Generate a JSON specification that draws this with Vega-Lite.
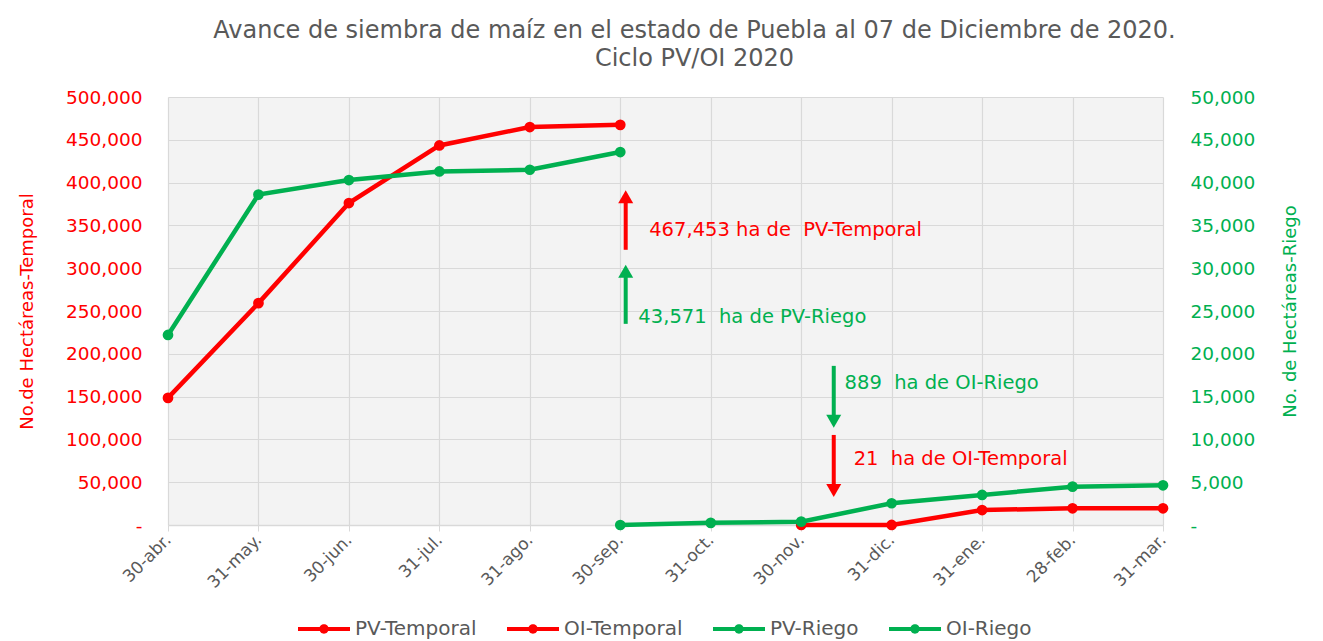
{
  "$schema": "https://vega.github.io/schema/vega-lite/v6.json",
  "autosize": {"type": "none"},
  "width": 995,
  "height": 428,
  "padding": {"left": 168, "top": 97, "right": 160, "bottom": 116},
  "background": "white",
  "title": {
    "text": ["Avance de siembra de maíz en el estado de Puebla al 07 de Diciembre de 2020.", "Ciclo PV/OI 2020"],
    "fontSize": 24,
    "fontWeight": "normal",
    "color": "#595959",
    "lineHeight": 28,
    "anchor": "middle",
    "dx": 29,
    "offset": 17
  },
  "datasets": {
    "series": [
      {"i": 0, "mes": "30-abr.", "serie": "PV-Temporal", "eje": "izq", "v": 148500},
      {"i": 1, "mes": "31-may.", "serie": "PV-Temporal", "eje": "izq", "v": 259200},
      {"i": 2, "mes": "30-jun.", "serie": "PV-Temporal", "eje": "izq", "v": 376100},
      {"i": 3, "mes": "31-jul.", "serie": "PV-Temporal", "eje": "izq", "v": 443400},
      {"i": 4, "mes": "31-ago.", "serie": "PV-Temporal", "eje": "izq", "v": 464900},
      {"i": 5, "mes": "30-sep.", "serie": "PV-Temporal", "eje": "izq", "v": 467453},
      {"i": 7, "mes": "30-nov.", "serie": "OI-Temporal", "eje": "izq", "v": 0},
      {"i": 8, "mes": "31-dic.", "serie": "OI-Temporal", "eje": "izq", "v": 21},
      {"i": 9, "mes": "31-ene.", "serie": "OI-Temporal", "eje": "izq", "v": 17500},
      {"i": 10, "mes": "28-feb.", "serie": "OI-Temporal", "eje": "izq", "v": 19500},
      {"i": 11, "mes": "31-mar.", "serie": "OI-Temporal", "eje": "izq", "v": 19500},
      {"i": 0, "mes": "30-abr.", "serie": "PV-Riego", "eje": "der", "v": 22200},
      {"i": 1, "mes": "31-may.", "serie": "PV-Riego", "eje": "der", "v": 38600},
      {"i": 2, "mes": "30-jun.", "serie": "PV-Riego", "eje": "der", "v": 40300},
      {"i": 3, "mes": "31-jul.", "serie": "PV-Riego", "eje": "der", "v": 41300},
      {"i": 4, "mes": "31-ago.", "serie": "PV-Riego", "eje": "der", "v": 41500},
      {"i": 5, "mes": "30-sep.", "serie": "PV-Riego", "eje": "der", "v": 43571},
      {"i": 5, "mes": "30-sep.", "serie": "OI-Riego", "eje": "der", "v": 0},
      {"i": 6, "mes": "31-oct.", "serie": "OI-Riego", "eje": "der", "v": 250},
      {"i": 7, "mes": "30-nov.", "serie": "OI-Riego", "eje": "der", "v": 390},
      {"i": 8, "mes": "31-dic.", "serie": "OI-Riego", "eje": "der", "v": 2540},
      {"i": 9, "mes": "31-ene.", "serie": "OI-Riego", "eje": "der", "v": 3510},
      {"i": 10, "mes": "28-feb.", "serie": "OI-Riego", "eje": "der", "v": 4480},
      {"i": 11, "mes": "31-mar.", "serie": "OI-Riego", "eje": "der", "v": 4640}
    ],
    "flechas": [
      {"x": 5.06, "cola": 321500, "punta": 383400, "serie": "PV-Temporal", "forma": "triangle-up"},
      {"x": 5.06, "cola": 235000, "punta": 296500, "serie": "PV-Riego", "forma": "triangle-up"},
      {"x": 7.36, "cola": 185900, "punta": 121200, "serie": "OI-Riego", "forma": "triangle-down"},
      {"x": 7.36, "cola": 105200, "punta": 40200, "serie": "OI-Temporal", "forma": "triangle-down"}
    ],
    "notas": [
      {"x": 5.32, "y": 344800, "serie": "PV-Temporal", "texto": "467,453 ha de\u00a0 PV-Temporal"},
      {"x": 5.2, "y": 243500, "serie": "PV-Riego", "texto": "43,571\u00a0 ha de PV-Riego"},
      {"x": 7.48, "y": 165600, "serie": "OI-Riego", "texto": "889\u00a0 ha de OI-Riego"},
      {"x": 7.58, "y": 76800, "serie": "OI-Temporal", "texto": "21\u00a0 ha de OI-Temporal"}
    ]
  },
  "resolve": {"scale": {"y": "independent", "color": "shared"}},
  "layer": [
    {
      "data": {"name": "series"},
      "transform": [{"filter": "datum.eje == 'izq'"}],
      "mark": {"type": "line", "strokeWidth": 4.5, "point": {"filled": true, "size": 115}},
      "encoding": {
        "x": {
          "field": "i", "type": "quantitative",
          "scale": {"domain": [0, 11], "nice": false, "zero": false},
          "axis": {
            "title": null,
            "values": [0, 1, 2, 3, 4, 5, 6, 7, 8, 9, 10, 11],
            "labelExpr": "['30-abr.','31-may.','30-jun.','31-jul.','31-ago.','30-sep.','31-oct.','30-nov.','31-dic.','31-ene.','28-feb.','31-mar.'][datum.value]",
            "labelAngle": -45,
            "labelAlign": "right",
            "labelBaseline": "middle",
            "labelFontSize": 17,
            "labelColor": "#595959",
            "labelPadding": 6,
            "grid": true,
            "gridColor": "#d9d9d9",
            "gridWidth": 1.2,
            "domainColor": "#d9d9d9",
            "domainWidth": 1.5,
            "ticks": true,
            "tickColor": "#d9d9d9",
            "tickSize": 6
          }
        },
        "y": {
          "field": "v", "type": "quantitative",
          "scale": {"domain": [0, 500000], "nice": false},
          "axis": {
            "orient": "left",
            "title": "No.de Hectáreas-Temporal",
            "titleColor": "#FF0000",
            "titleFontSize": 18,
            "titleFontWeight": "normal",
            "titleAngle": -90,
            "titleBaseline": "middle",
            "titleX": -141,
            "titleY": 214,
            "values": [0, 50000, 100000, 150000, 200000, 250000, 300000, 350000, 400000, 450000, 500000],
            "labelExpr": "datum.value === 0 ? '-' : format(datum.value, ',')",
            "labelColor": "#FF0000",
            "labelFontSize": 18.5,
            "labelPadding": 26,
            "ticks": false,
            "domain": false,
            "grid": true,
            "gridColor": "#d9d9d9",
            "gridWidth": 1.2
          }
        },
        "color": {
          "field": "serie", "type": "nominal",
          "scale": {
            "domain": ["PV-Temporal", "OI-Temporal", "PV-Riego", "OI-Riego"],
            "range": ["#FF0000", "#FF0000", "#00B050", "#00B050"]
          },
          "legend": {
            "title": null,
            "orient": "none",
            "legendX": 130,
            "legendY": 506,
            "direction": "horizontal",
            "labelFontSize": 20,
            "labelColor": "#595959",
            "labelOffset": 5,
            "columnPadding": 30,
            "symbolType": "M-1,-0.08H1V0.08H-1Z M-0.18,0A0.18,0.18 0 1,1 0.18,0A0.18,0.18 0 1,1 -0.18,0Z",
            "symbolSize": 2704,
            "symbolStrokeWidth": 0,
            "encode": {
              "symbols": {
                "update": {
                  "fill": {"scale": "color", "field": "value"},
                  "strokeWidth": {"value": 0},
                  "opacity": {"value": 1}
                }
              }
            }
          }
        }
      }
    },
    {
      "data": {"name": "series"},
      "transform": [{"filter": "datum.eje == 'der'"}],
      "mark": {"type": "line", "strokeWidth": 4.5, "point": {"filled": true, "size": 115}},
      "encoding": {
        "x": {"field": "i", "type": "quantitative"},
        "y": {
          "field": "v", "type": "quantitative",
          "scale": {"domain": [0, 50000], "nice": false},
          "axis": {
            "orient": "right",
            "title": "No. de Hectáreas-Riego",
            "titleColor": "#00B050",
            "titleFontSize": 18,
            "titleFontWeight": "normal",
            "titleAngle": -90,
            "titleBaseline": "middle",
            "titleX": 127,
            "titleY": 214,
            "values": [0, 5000, 10000, 15000, 20000, 25000, 30000, 35000, 40000, 45000, 50000],
            "labelExpr": "datum.value === 0 ? '-' : format(datum.value, ',')",
            "labelColor": "#00B050",
            "labelFontSize": 18.5,
            "labelPadding": 27,
            "ticks": false,
            "domain": false,
            "grid": false
          }
        },
        "color": {"field": "serie", "type": "nominal", "legend": null}
      }
    },
    {
      "data": {"name": "flechas"},
      "mark": {"type": "rule", "strokeWidth": 4},
      "encoding": {
        "x": {"field": "x", "type": "quantitative"},
        "y": {"field": "cola", "type": "quantitative", "scale": {"domain": [0, 500000], "nice": false}, "axis": null},
        "y2": {"field": "punta"},
        "color": {"field": "serie", "type": "nominal", "legend": null}
      }
    },
    {
      "data": {"name": "flechas"},
      "mark": {"type": "point", "filled": true, "opacity": 1, "size": 225},
      "encoding": {
        "x": {"field": "x", "type": "quantitative"},
        "y": {"field": "punta", "type": "quantitative", "scale": {"domain": [0, 500000], "nice": false}, "axis": null},
        "shape": {"field": "forma", "type": "nominal", "scale": null, "legend": null},
        "color": {"field": "serie", "type": "nominal", "legend": null}
      }
    },
    {
      "data": {"name": "notas"},
      "mark": {"type": "text", "align": "left", "baseline": "middle", "fontSize": 19.5},
      "encoding": {
        "x": {"field": "x", "type": "quantitative"},
        "y": {"field": "y", "type": "quantitative", "scale": {"domain": [0, 500000], "nice": false}, "axis": null},
        "text": {"field": "texto", "type": "nominal"},
        "color": {"field": "serie", "type": "nominal", "legend": null}
      }
    }
  ],
  "config": {
    "font": "DejaVu Sans",
    "view": {"fill": "#f3f3f3", "stroke": null}
  }
}
